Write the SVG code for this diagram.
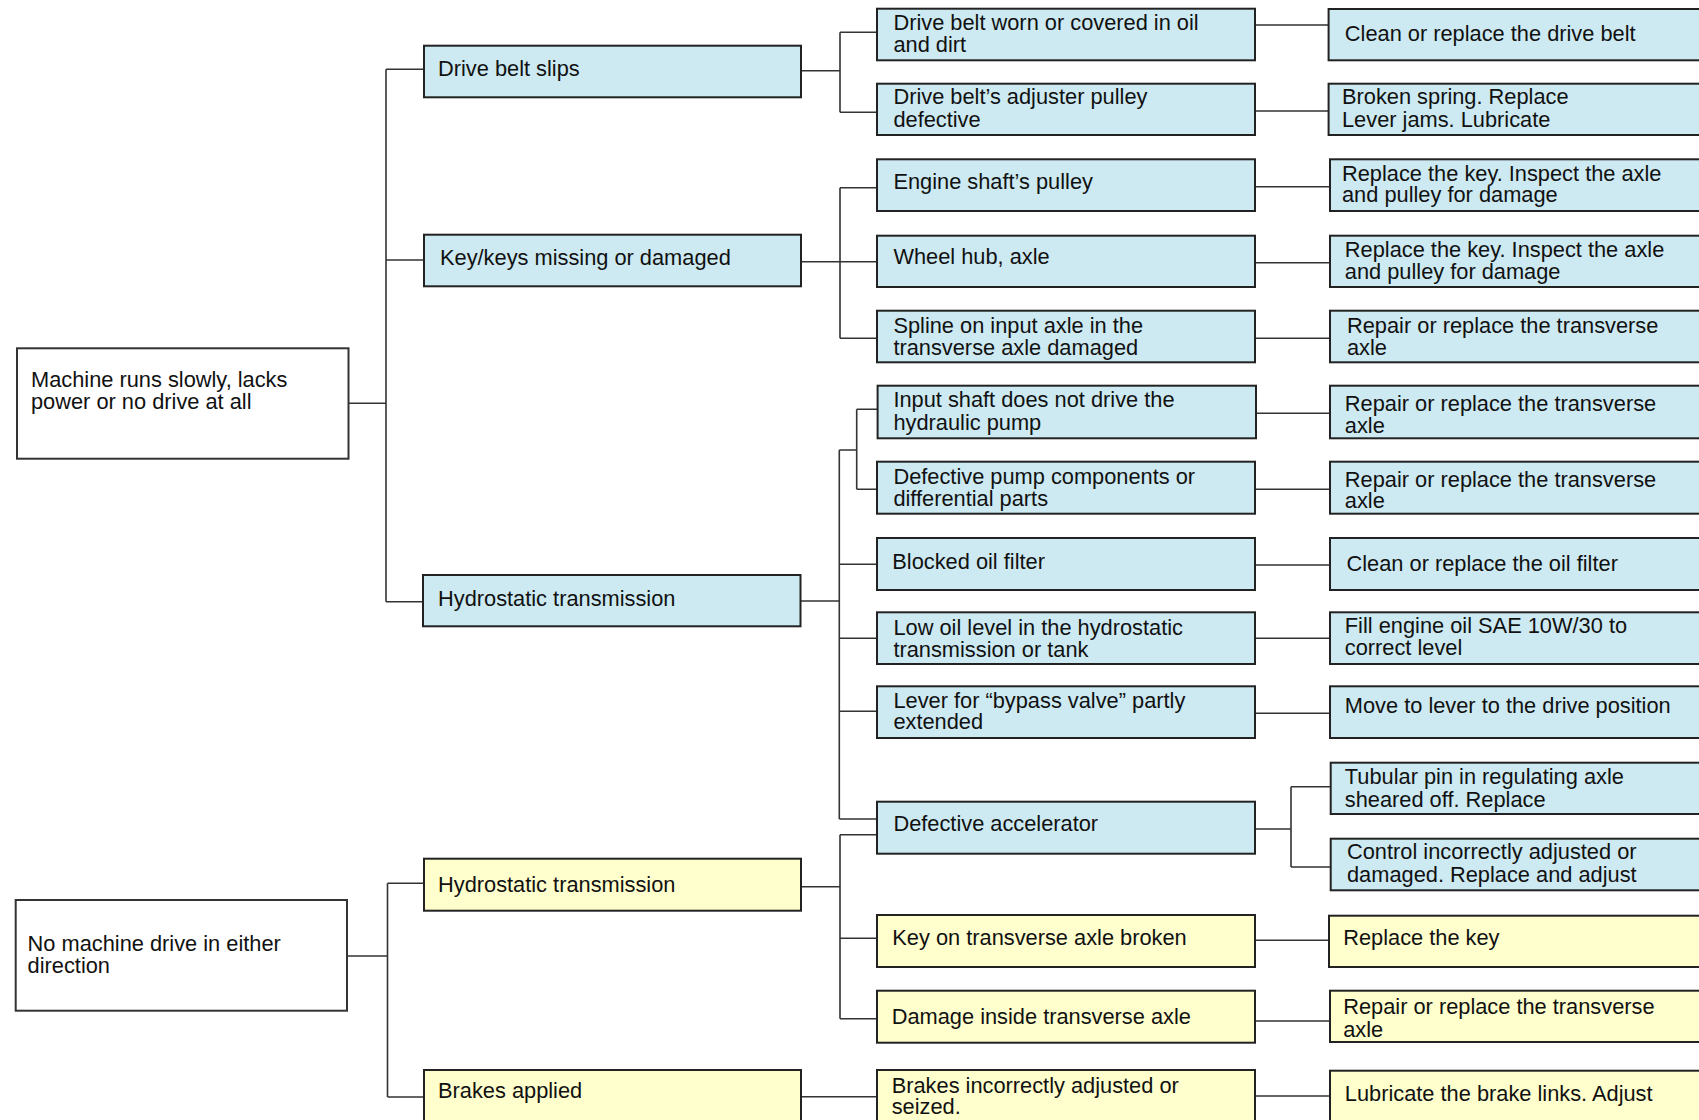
<svg xmlns="http://www.w3.org/2000/svg" width="1699" height="1120" viewBox="0 0 1699 1120">
<style>
.b{fill:#cdeaf2;stroke:#222;stroke-width:2}
.y{fill:#ffffcd;stroke:#222;stroke-width:2}
.w{fill:#fff;stroke:#333;stroke-width:2}
.c{fill:none;stroke:#333;stroke-width:1.6}
text{font-family:"Liberation Sans",Arial,sans-serif;font-size:21.8px;fill:#111}
</style>
<rect width="1699" height="1120" fill="#fff"/>
<g id="connectors" class="c">
<path d="M348.5,403.3H386M386,69.3V601.7M386,69.3H424M386,260H424M386,601.7H423"/>
<path d="M347,956H387.5M387.5,883.3V1097M387.5,883.3H424M387.5,1097H424"/>
<path d="M801,70.7H840M840,32.3V112.3M840,32.3H877M840,112.3H877"/>
<path d="M801,261.7H877M840,187.7V338.3M840,187.7H877M840,338.3H877"/>
<path d="M800.7,601H839.3M839.3,450V819M839.3,450H856.7M856.7,409.3V489.3M856.7,409.3H877M856.7,489.3H877M839.3,564.3H877M839.3,638.3H877M839.3,711.3H877M839.3,819H877"/>
<path d="M801,886.7H840M840,834.7V1018.7M840,834.7H877M840,938.3H877M840,1018.7H877"/>
<path d="M801,1096.7H877"/>
<path d="M1255,25H1329M1255,111H1329M1255,186.7H1330M1255,262.7H1330M1255,338.3H1330M1256,413.3H1330M1255,489.3H1330M1255,565H1330M1255,638.3H1330M1255,713.3H1330M1255,940.3H1329M1255,1021H1330M1255,1096H1330"/>
<path d="M1255,829H1291M1291,786.7V867M1291,786.7H1331M1291,867H1331"/>
</g>
<g id="root1"><rect class="w" x="17" y="348.3" width="331.5" height="110.4"/><text x="31" y="386.7">Machine runs slowly, lacks</text><text x="31" y="409.3">power or no drive at all</text></g>
<g id="root2"><rect class="w" x="15.7" y="900" width="331.3" height="110.7"/><text x="27.6" y="950.7">No machine drive in either</text><text x="27.6" y="972.7">direction</text></g>
<g id="n-drive-belt-slips"><rect class="b" x="424" y="45.7" width="377" height="51.6"/><text x="438" y="76">Drive belt slips</text></g>
<g id="n-keys"><rect class="b" x="424" y="234.7" width="377" height="51.6"/><text x="440" y="265">Key/keys missing or damaged</text></g>
<g id="n-hydro-blue"><rect class="b" x="423" y="575" width="377.5" height="51.3"/><text x="438" y="606">Hydrostatic transmission</text></g>
<g id="n-hydro-yellow"><rect class="y" x="424" y="858.7" width="377" height="52"/><text x="438" y="891.7">Hydrostatic transmission</text></g>
<g id="n-brakes-applied"><rect class="y" x="424" y="1070" width="377" height="60"/><text x="438" y="1098.3">Brakes applied</text></g>
<g id="n-belt-worn"><rect class="b" x="877" y="8.7" width="378" height="51.6"/><text x="893.4" y="30">Drive belt worn or covered in oil</text><text x="893.4" y="52">and dirt</text></g>
<g id="n-adjuster"><rect class="b" x="877" y="83.7" width="378" height="51.3"/><text x="893.4" y="104.3">Drive belt’s adjuster pulley</text><text x="893.4" y="126.7">defective</text></g>
<g id="n-engine-shaft"><rect class="b" x="877" y="159.3" width="378" height="51.7"/><text x="893.4" y="189.3">Engine shaft’s pulley</text></g>
<g id="n-wheel-hub"><rect class="b" x="877" y="235.7" width="378" height="51.3"/><text x="893.4" y="264">Wheel hub, axle</text></g>
<g id="n-spline"><rect class="b" x="877" y="310.7" width="378" height="51.6"/><text x="893.4" y="332.7">Spline on input axle in the</text><text x="893.4" y="355">transverse axle damaged</text></g>
<g id="n-input-shaft"><rect class="b" x="877.6" y="385.7" width="378.4" height="52.6"/><text x="893.4" y="407.3">Input shaft does not drive the</text><text x="893.4" y="430">hydraulic pump</text></g>
<g id="n-def-pump"><rect class="b" x="877" y="461.7" width="378" height="52"/><text x="893.4" y="484.3">Defective pump components or</text><text x="893.4" y="506">differential parts</text></g>
<g id="n-blocked-filter"><rect class="b" x="877" y="538" width="378" height="52"/><text x="892.3" y="569">Blocked oil filter</text></g>
<g id="n-low-oil"><rect class="b" x="877" y="612.3" width="378" height="51.7"/><text x="893.4" y="635">Low oil level in the hydrostatic</text><text x="893.4" y="657.3">transmission or tank</text></g>
<g id="n-lever"><rect class="b" x="877" y="686.3" width="378" height="51.7"/><text x="893.4" y="707.7">Lever for “bypass valve” partly</text><text x="893.4" y="729.3">extended</text></g>
<g id="n-accelerator"><rect class="b" x="877" y="801.7" width="378" height="52"/><text x="893.4" y="830.7">Defective accelerator</text></g>
<g id="n-key-broken"><rect class="y" x="877" y="915" width="378" height="52"/><text x="892.3" y="944.7">Key on transverse axle broken</text></g>
<g id="n-damage-inside"><rect class="y" x="877" y="990.7" width="378" height="52"/><text x="891.7" y="1024">Damage inside transverse axle</text></g>
<g id="n-brakes-adj"><rect class="y" x="877" y="1070" width="378" height="60"/><text x="891.7" y="1092.7">Brakes incorrectly adjusted or</text><text x="891.7" y="1114">seized.</text></g>
<g id="r-clean-belt"><rect class="b" x="1328.6" y="9" width="390" height="51.3"/><text x="1344.8" y="41">Clean or replace the drive belt</text></g>
<g id="r-broken-spring"><rect class="b" x="1328.6" y="83.7" width="390" height="51.3"/><text x="1342" y="104.3">Broken spring. Replace</text><text x="1342" y="126.7">Lever jams. Lubricate</text></g>
<g id="r-replace-key1"><rect class="b" x="1330" y="159.3" width="390" height="51.7"/><text x="1342" y="181">Replace the key. Inspect the axle</text><text x="1342" y="202.3">and pulley for damage</text></g>
<g id="r-replace-key2"><rect class="b" x="1330" y="235.7" width="390" height="51.3"/><text x="1344.8" y="256.7">Replace the key. Inspect the axle</text><text x="1344.8" y="279">and pulley for damage</text></g>
<g id="r-repair1"><rect class="b" x="1330" y="310.7" width="390" height="51.6"/><text x="1347" y="332.7">Repair or replace the transverse</text><text x="1347" y="355">axle</text></g>
<g id="r-repair2"><rect class="b" x="1330" y="385.7" width="390" height="52.6"/><text x="1344.8" y="410.7">Repair or replace the transverse</text><text x="1344.8" y="432.7">axle</text></g>
<g id="r-repair3"><rect class="b" x="1330" y="461.7" width="390" height="52"/><text x="1344.8" y="486.7">Repair or replace the transverse</text><text x="1344.8" y="508.3">axle</text></g>
<g id="r-clean-filter"><rect class="b" x="1330" y="538" width="390" height="52"/><text x="1346.5" y="571.3">Clean or replace the oil filter</text></g>
<g id="r-fill-oil"><rect class="b" x="1330" y="612.3" width="390" height="51.7"/><text x="1344.8" y="632.7">Fill engine oil SAE 10W/30 to</text><text x="1344.8" y="655">correct level</text></g>
<g id="r-move-lever"><rect class="b" x="1330" y="686.3" width="390" height="51.7"/><text x="1344.8" y="713.3">Move to lever to the drive position</text></g>
<g id="r-tubular"><rect class="b" x="1330.7" y="762.7" width="390" height="51.3"/><text x="1344.8" y="784">Tubular pin in regulating axle</text><text x="1344.8" y="806.7">sheared off. Replace</text></g>
<g id="r-control"><rect class="b" x="1330.7" y="838.7" width="390" height="51.6"/><text x="1347" y="859.3">Control incorrectly adjusted or</text><text x="1347" y="881.7">damaged. Replace and adjust</text></g>
<g id="r-replace-key3"><rect class="y" x="1329" y="915.7" width="390" height="51.3"/><text x="1343.2" y="944.7">Replace the key</text></g>
<g id="r-repair4"><rect class="y" x="1330" y="990.7" width="390" height="51.3"/><text x="1343.2" y="1014.3">Repair or replace the transverse</text><text x="1343.2" y="1036.7">axle</text></g>
<g id="r-lubricate"><rect class="y" x="1330" y="1070.7" width="390" height="60"/><text x="1344.8" y="1101">Lubricate the brake links. Adjust</text></g>
</svg>
